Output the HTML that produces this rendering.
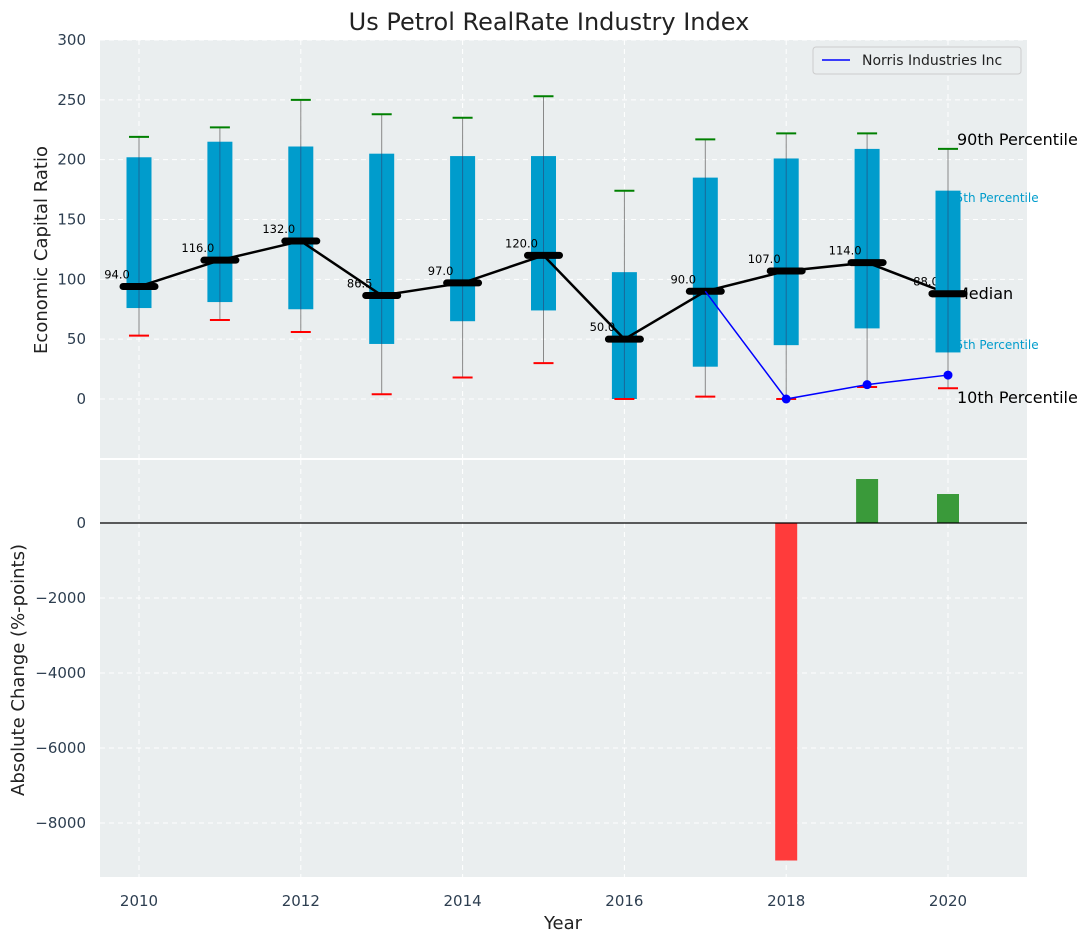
<!DOCTYPE html>
<html><head><meta charset="utf-8"><style>
body{margin:0;background:#fff;font-family:"DejaVu Sans","Liberation Sans",sans-serif}
svg text{font-family:"DejaVu Sans","Liberation Sans",sans-serif}
</style></head><body>
<svg id="c" width="1092" height="942" xmlns="http://www.w3.org/2000/svg"></svg>
<script>
const years=[2010,2011,2012,2013,2014,2015,2016,2017,2018,2019,2020];
const p10=[53,66,56,4,18,30,0,2,0,10,9];
const p25=[76,81,75,46,65,74,0,27,45,59,39];
const med=[94,116,132,86.5,97,120,50,90,107,114,88];
const p75=[202,215,211,205,203,203,106,185,201,209,174];
const p90=[219,227,250,238,235,253,174,217,222,222,209];
const coYears=[2017,2018,2019,2020];
const coVals=[90,0,12,20];
const chYears=[2018,2019,2020];
const chVals=[-9000,1173,773];
const yTicks=[0,50,100,150,200,250,300];
const y2Ticks=[0,-2000,-4000,-6000,-8000];
const xTicks=[2010,2012,2014,2016,2018,2020];

const svg=document.getElementById('c');const NS='http://www.w3.org/2000/svg';
function el(t,a,p){const e=document.createElementNS(NS,t);for(const k in a)e.setAttribute(k,a[k]);(p||svg).appendChild(e);return e;}
const L=100,R=1027,T1=40,B1=458,T2=460,B2=877;
const x=v=>139+(v-2010)*80.9;
const y1=v=>399-v*359/300;
const y2=v=>523-v*75/2000;
let e;
e=el('rect',{x:L,y:T1,width:R-L,height:B1-T1,fill:'#eaeeef'});


e=el('rect',{x:L,y:T2,width:R-L,height:B2-T2,fill:'#eaeeef'});


xTicks.forEach(v=>{[[T1,B1],[T2,B2]].forEach(([a,b])=>{e=el('line',{x1:x(v),x2:x(v),y1:a,y2:b,stroke:'#fff','stroke-dasharray':'5,4','stroke-width':1});

});
e=el('text',{x:x(v),y:906,'text-anchor':'middle','font-size':15,fill:'#2d3e50'});e.textContent=v;

});
yTicks.forEach(v=>{e=el('line',{x1:L,x2:R,y1:y1(v),y2:y1(v),stroke:'#fff','stroke-dasharray':'5,4'});


e=el('text',{x:86,y:y1(v)+5,'text-anchor':'end','font-size':15,fill:'#2d3e50'});e.textContent=v;

});
y2Ticks.forEach(v=>{e=el('line',{x1:L,x2:R,y1:y2(v),y2:y2(v),stroke:'#fff','stroke-dasharray':'5,4'});


e=el('text',{x:86,y:y2(v)+5,'text-anchor':'end','font-size':15,fill:'#2d3e50'});e.textContent=(v<0?'\u2212'+(-v):v);

});
years.forEach((yr,i)=>{const cx=x(yr);
e=el('line',{x1:cx,x2:cx,y1:y1(p90[i]),y2:y1(p10[i]),stroke:'#888','stroke-width':1});


e=el('rect',{x:cx-12.5,y:y1(p75[i]),width:25,height:y1(p25[i])-y1(p75[i]),fill:'#009ccc'});


e=el('line',{x1:cx,x2:cx,y1:y1(p75[i]),y2:y1(p25[i]),stroke:'#336','stroke-width':1,opacity:0.5});


e=el('line',{x1:cx-10,x2:cx+10,y1:y1(p90[i]),y2:y1(p90[i]),stroke:'green','stroke-width':2});


e=el('line',{x1:cx-10,x2:cx+10,y1:y1(p10[i]),y2:y1(p10[i]),stroke:'red','stroke-width':2});


});
e=el('polyline',{points:years.map((yr,i)=>x(yr)+','+y1(med[i])).join(' '),fill:'none',stroke:'#000','stroke-width':2.5});


years.forEach((yr,i)=>{const cx=x(yr);
e=el('line',{x1:cx-16,x2:cx+16,y1:y1(med[i]),y2:y1(med[i]),stroke:'#000','stroke-width':7,'stroke-linecap':'round'});


e=el('text',{x:cx-22,y:y1(med[i])-8,'text-anchor':'middle','font-size':11.5,fill:'#000'});e.textContent=med[i].toFixed(1);

});
e=el('polyline',{points:coYears.map((yr,i)=>x(yr)+','+y1(coVals[i])).join(' '),fill:'none',stroke:'blue','stroke-width':1.5});


coYears.forEach((yr,i)=>{if(i>0){e=el('circle',{cx:x(yr),cy:y1(coVals[i]),r:4.5,fill:'blue'});

}});
[['90th Percentile',957,145,16,'#000'],['75th Percentile',948,202,12,'#009ccc'],['Median',955,299,16,'#000'],['25th Percentile',948,349,12,'#009ccc'],['10th Percentile',957,403,16,'#000']].forEach(a=>{
e=el('text',{x:a[1],y:a[2],'font-size':a[3],fill:a[4]});e.textContent=a[0];

});
(function(){const i=10,cx=x(2020);e=el('rect',{x:cx-12.5,y:y1(p75[i]),width:25,height:y1(p25[i])-y1(p75[i]),fill:'#009ccc'});


e=el('line',{x1:cx,x2:cx,y1:y1(p75[i]),y2:y1(p25[i]),stroke:'#336',opacity:0.5});


e=el('line',{x1:cx-16,x2:cx+16,y1:y1(med[i]),y2:y1(med[i]),stroke:'#000','stroke-width':7,'stroke-linecap':'round'});

})();
e=el('rect',{x:813,y:47,width:208,height:27,fill:'#eaeeef',stroke:'#ccc',rx:3});


e=el('line',{x1:822,x2:850,y1:60,y2:60,stroke:'blue','stroke-width':1.5});


e=el('text',{x:862,y:65,'font-size':14,fill:'#222'});e.textContent='Norris Industries Inc';


chYears.forEach((yr,i)=>{const v=chVals[i];const a=y2(Math.max(v,0)),b=y2(Math.min(v,0));
e=el('rect',{x:x(yr)-11,y:a,width:22,height:b-a,fill:v<0?'#ff3b3b':'#3a9a3a'});

});
e=el('line',{x1:L,x2:R,y1:y2(0),y2:y2(0),stroke:'#000','stroke-width':1.3});


e=el('text',{x:549,y:30,'text-anchor':'middle','font-size':24,fill:'#222'});e.textContent='Us Petrol RealRate Industry Index';


e=el('text',{x:563,y:929,'text-anchor':'middle','font-size':18,fill:'#222'});e.textContent='Year';


e=el('text',{x:47,y:250,'text-anchor':'middle','font-size':18,fill:'#222',transform:'rotate(-90 47 250)'});e.textContent='Economic Capital Ratio';


e=el('text',{x:24,y:670,'text-anchor':'middle','font-size':18,fill:'#222',transform:'rotate(-90 24 670)'});e.textContent='Absolute Change (%-points)';


</script>
</body></html>
